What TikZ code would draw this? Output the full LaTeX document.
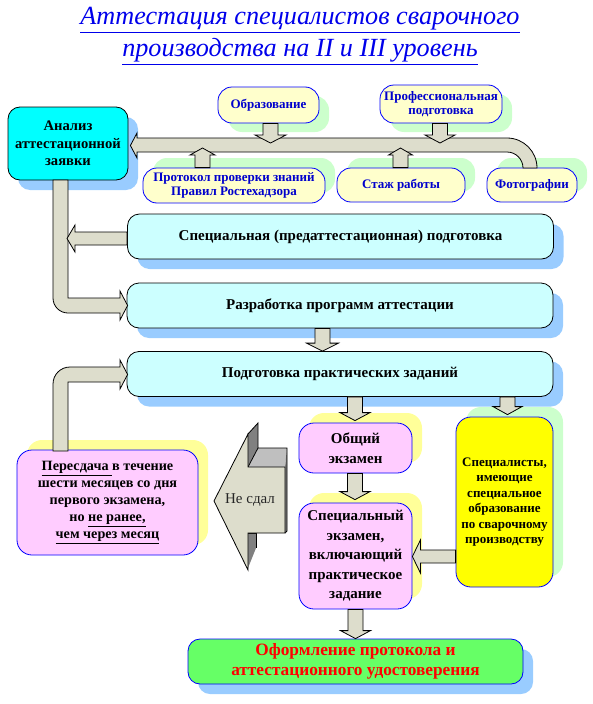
\documentclass[tikz,border=0pt]{standalone}
\usepackage{fontspec}
\setmainfont{Liberation Serif}
\usetikzlibrary{calc,shadows}

\definecolor{shblue}{RGB}{153,204,255}
\definecolor{shgreen}{RGB}{204,255,204}
\definecolor{shyel}{RGB}{255,255,153}
\definecolor{cyanbox}{RGB}{0,255,255}
\definecolor{lcyan}{RGB}{204,255,255}
\definecolor{lyel}{RGB}{255,255,204}
\definecolor{pinkbox}{RGB}{255,204,255}
\definecolor{yelbox}{RGB}{255,255,0}
\definecolor{greenbox}{RGB}{102,255,102}
\definecolor{arrfill}{RGB}{221,221,204}
\definecolor{txtblue}{RGB}{0,0,204}
\definecolor{ttlblue}{RGB}{0,0,235}

\tikzset{
  box/.style={rounded corners=12pt, align=center, inner sep=2pt, line width=0.8pt},
  topbox/.style={box, rounded corners=14pt, draw=blue, fill=lyel, text=txtblue,
    font=\fontsize{13}{14.5}\selectfont\bfseries,
    general shadow={fill=shgreen, shadow xshift=10pt, shadow yshift=#1}},
  wide/.style={box, draw=black, fill=lcyan, font=\fontsize{15}{17}\selectfont\bfseries,
    minimum width=426pt, minimum height=45pt,
    general shadow={fill=shblue, shadow xshift=10pt, shadow yshift=-10pt}},
  pinkb/.style={box, rounded corners=15pt, draw=blue, fill=pinkbox,
    general shadow={fill=shyel, shadow xshift=10pt, shadow yshift=10pt}},
  blk/.style={fill=arrfill, draw=black, line width=0.8pt},
  ttl/.style={align=center, text=ttlblue, font=\fontsize{26.2}{32}\selectfont\itshape}
}

% block arrows: start point, tip, head half width
\newcommand{\arrdown}[3]{%
  \draw[blk] let \p1=#1, \p2=#2 in
    (\x1-7.5pt,\y1) -- (\x1-7.5pt,\y2+8pt) -- (\x1-#3,\y2+8pt) -- (\x1,\y2)
    -- (\x1+#3,\y2+8pt) -- (\x1+7.5pt,\y2+8pt) -- (\x1+7.5pt,\y1) -- cycle;}
\newcommand{\arrup}[3]{%
  \draw[blk] let \p1=#1, \p2=#2 in
    (\x1-7.5pt,\y1) -- (\x1-7.5pt,\y2-7pt) -- (\x1-#3,\y2-7pt) -- (\x1,\y2)
    -- (\x1+#3,\y2-7pt) -- (\x1+7.5pt,\y2-7pt) -- (\x1+7.5pt,\y1) -- cycle;}
\newcommand{\arrleft}[3]{%
  \draw[blk] let \p1=#1, \p2=#2 in
    (\x1,\y1+6.5pt) -- (\x2+8pt,\y1+6.5pt) -- (\x2+8pt,\y1+#3) -- (\x2,\y1)
    -- (\x2+8pt,\y1-#3) -- (\x2+8pt,\y1-6.5pt) -- (\x1,\y1-6.5pt) -- cycle;}

\begin{document}
\begin{tikzpicture}[x=1pt,y=-1pt]
\useasboundingbox (0,0) rectangle (592,704);

% Title
\node[ttl] (title) at (300,36)
  {\underline{Аттестация специалистов сварочного}\\\underline{производства на II и III уровень}};

% Application analysis
\node[box, draw=black, fill=cyanbox, minimum width=120pt, minimum height=73pt,
  font=\fontsize{14.6}{17.5}\selectfont\bfseries,
  general shadow={fill=shblue, shadow xshift=10pt, shadow yshift=-10pt}]
  (anz) at (68,143.5) {Анализ\\аттестационной\\заявки};

% Documents
\node[topbox=-9pt, minimum width=101pt, minimum height=36pt] (obr) at (268.5,105) {Образование};
\node[topbox=-9pt, minimum width=122pt, minimum height=38pt] (prof) at (441,104) {Профессиональная\\подготовка};
\node[topbox=10pt, minimum width=182pt, minimum height=35pt] (prot) at (234,185.5) {Протокол проверки знаний\\Правил Ростехадзора};
\node[topbox=10pt, minimum width=128pt, minimum height=34pt] (stazh) at (401,185) {Стаж работы};
\node[topbox=10pt, minimum width=90pt, minimum height=34pt] (foto) at (532,185) {Фотографии};

% Preparation steps
\node[wide] (spec) at (340.5,236.5) {Специальная (предаттестационная) подготовка};
\node[wide] (razr) at (340,305.5) {Разработка программ аттестации};
\node[wide] (podg) at (340,374) {Подготовка практических заданий};

% Exams
\node[pinkb, minimum width=181pt, minimum height=105pt, font=\fontsize{14.2}{17}\selectfont\bfseries]
  (peres) at (107.5,502.5)
  {\underline{Пересдача }в течение\\шести месяцев со дня\\первого экзамена,\\но \underline{не ранее,}\\\underline{чем через месяц}};
\node[pinkb, minimum width=113pt, minimum height=50pt, font=\fontsize{15}{19.5}\selectfont\bfseries]
  (obsh) at (355.5,448) {Общий\\экзамен};
\node[pinkb, minimum width=113pt, minimum height=106pt, font=\fontsize{15}{19.5}\selectfont\bfseries]
  (spex) at (355.5,556) {Специальный\\экзамен,\\включающий\\практическое\\задание};
\node[box, draw=blue, fill=yelbox, rounded corners=15pt, minimum width=97pt, minimum height=170pt,
  font=\fontsize{13}{15.5}\selectfont\bfseries,
  general shadow={fill=shgreen, shadow xshift=10pt, shadow yshift=10pt}]
  (spc) at (504.5,502) {Специалисты,\\имеющие\\специальное\\образование\\по сварочному\\производству};

% Result
\node[box, draw=blue, fill=greenbox, minimum width=335pt, minimum height=45pt, text=red,
  font=\fontsize{17.3}{20}\selectfont\bfseries,
  general shadow={fill=shblue, shadow xshift=10pt, shadow yshift=-10pt}]
  (ofor) at (355.5,661.5) {Оформление протокола и\\аттестационного удостоверения};

% Collecting band to the analysis
\coordinate (bnd) at (300,143);
\draw[blk] ($(anz.east)+(2,2)$) -- (137,133) -- (137,138) -- (507,138)
  .. controls (523.6,138) and (537,151.4) .. (537,168) -- (523,168)
  .. controls (523,159.2) and (515.8,152) .. (507,152) -- (137,152) -- (137,158) -- cycle;
\arrdown{($(obr.south)+(2,0)$)}{(bnd)}{15.5pt}
\arrdown{($(prof.south)+(-1,0)$)}{(bnd)}{15pt}
\arrup{($(prot.north)+(-31.5,0)$)}{($(bnd)+(0,5)$)}{12.5pt}
\arrup{($(stazh.north)+(-0.5,0)$)}{($(bnd)+(0,5)$)}{12pt}

% Band from the analysis to the programmes
\coordinate (lbd) at (67,240);
\draw[blk] (53,180) -- (53,298) .. controls (53,306.3) and (59.7,313) .. (68,313) -- (120,313)
  -- (120,320) -- ($(razr.west)+(1,0)$) -- (120,291) -- (120,298) -- (68,298) -- (68,180) -- cycle;
\arrleft{($(spec.west)+(0,2)$)}{(lbd)}{13.5pt}

% Retake loop
\draw[blk] (53,451) -- (53,384) .. controls (53,374.6) and (60.6,367) .. (70,367) -- (120,367)
  -- (120,360) -- ($(podg.west)+(1,0.5)$) -- (120,389) -- (120,382) -- (68,382) -- (68,451) -- cycle;

% Flow arrows
\arrdown{($(razr.south)+(-17.5,0)$)}{(podg.north)}{16pt}
\arrdown{($(podg.south)+(15,0)$)}{($(obsh.north)+(0,-2)$)}{15pt}
\arrdown{($(podg.south)+(167.5,0)$)}{($(spc.north)+(0,-2)$)}{14.5pt}
\arrdown{($(obsh.south)+(-0.5,0)$)}{($(spex.north)+(0,-3)$)}{15pt}
\arrdown{(spex.south)}{(ofor.north)}{15pt}
\arrleft{($(spc.west)+(0,54.5)$)}{(spex.east)}{16.5pt}

% Failed: 3D arrow
\fill[gray] (248,434) -- (258,423) -- (258,448) -- (248,467) -- cycle;
\fill[gray] (248,533) -- (256,533) -- (256,548) -- (248,568) -- cycle;
\fill[lightgray] (248,467) -- (258,448) -- (287,448) -- (285,467) -- cycle;
\fill[gray] (285,467) -- (287,448) -- (287,531) -- (285,533) -- cycle;
\draw[line width=0.8pt] (248,434) -- (258,423) -- (258,448) -- (287,448) -- (287,531) -- (285,533);
\draw[line width=0.8pt] (258,448) -- (248,467);
\draw[line width=0.8pt] (248,533) -- (256,533) -- (256,548);
\draw[blk] (214,501) -- (248,434) -- (248,467) -- (285,467) -- (285,533) -- (248,533) -- (248,570) -- cycle;
\node[text=black!85, font=\fontsize{15}{17}\selectfont] (nesdal) at (250,500) {Не сдал};
\end{tikzpicture}
\end{document}
